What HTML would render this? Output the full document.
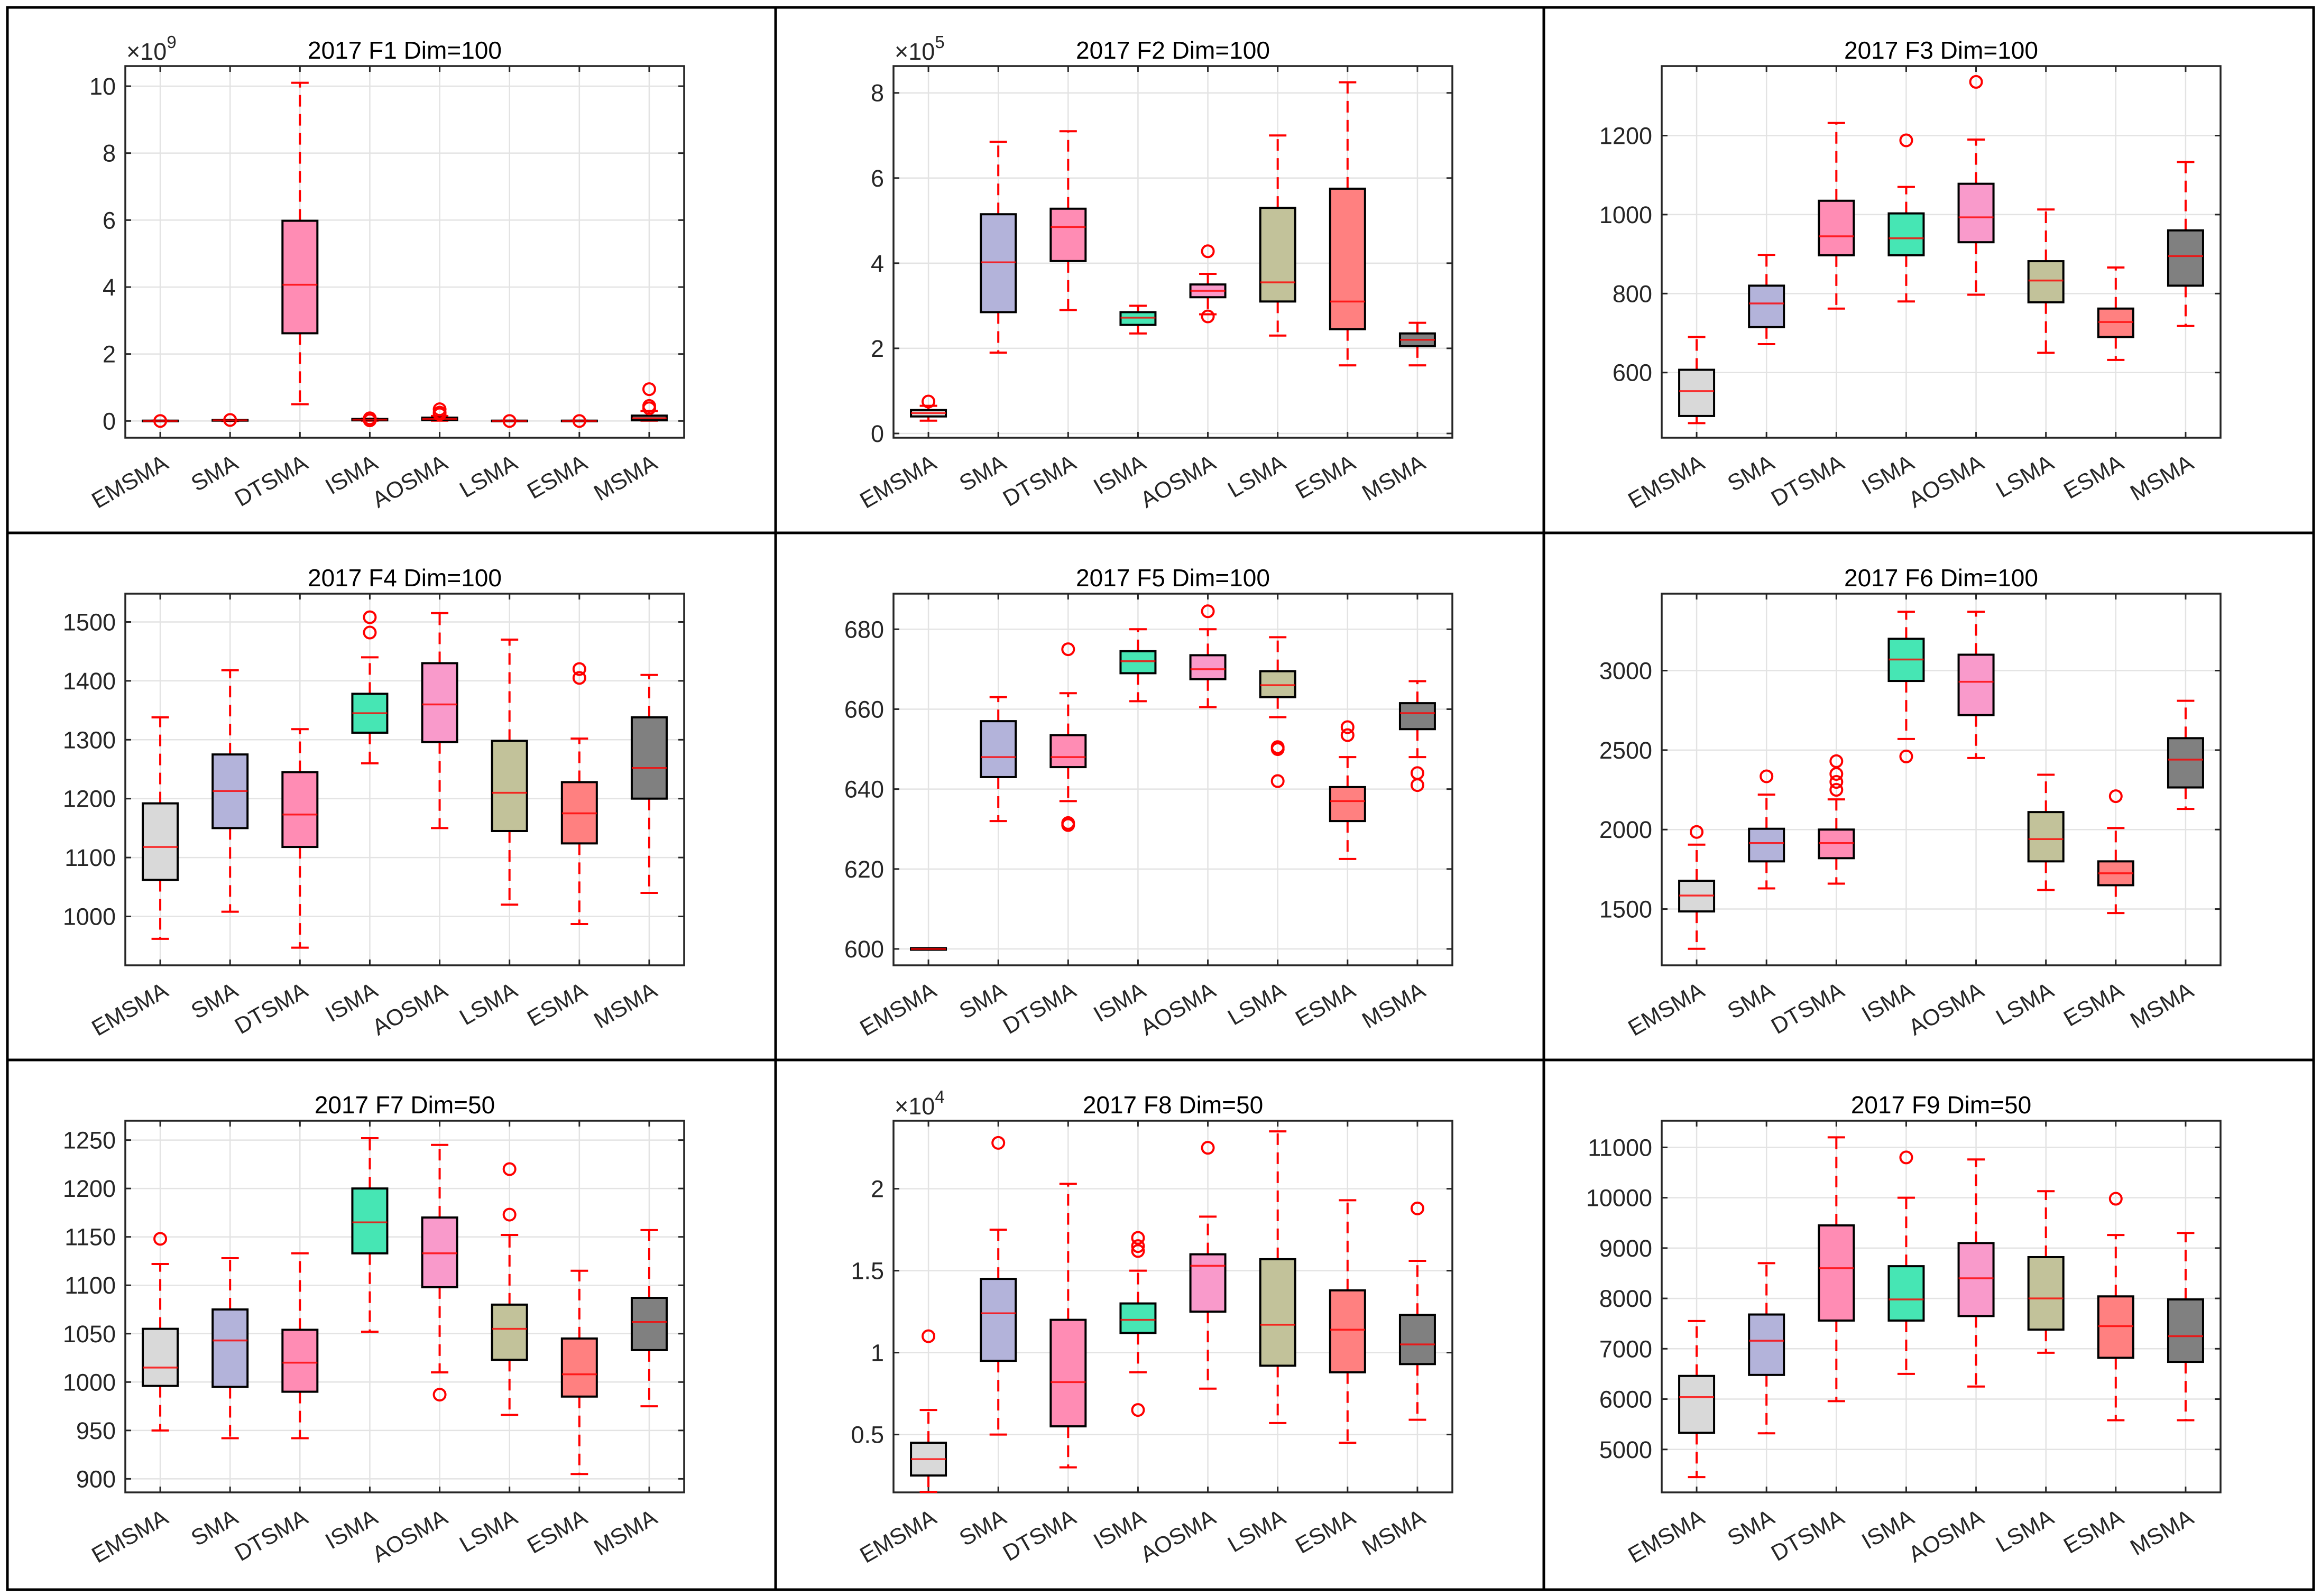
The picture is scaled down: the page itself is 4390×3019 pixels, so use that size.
<!DOCTYPE html>
<html><head><meta charset="utf-8">
<style>
html,body{margin:0;padding:0;background:#fff;}
svg{display:block;font-family:"Liberation Sans",Arial,sans-serif;}
</style></head>
<body>
<svg id="fig" width="4390" height="3019" viewBox="0 0 4390 3019" xmlns="http://www.w3.org/2000/svg">
<rect x="0" y="0" width="4390" height="3019" fill="#fff"/>
<g id="panels"></g>
<g stroke="#000" stroke-width="5" fill="none">
<rect x="14" y="14" width="4362" height="2993"/>
<line x1="1467" y1="14" x2="1467" y2="3007"/>
<line x1="2920" y1="14" x2="2920" y2="3007"/>
<line x1="14" y1="1008" x2="4376" y2="1008"/>
<line x1="14" y1="2005" x2="4376" y2="2005"/>
</g>
</svg>
<script>
const categories = ["EMSMA","SMA","DTSMA","ISMA","AOSMA","LSMA","ESMA","MSMA"];
const colors = ["#d9d9d9","#b3b3da","#ff8cb4","#46e6b4","#f99acb","#c2c29a","#ff8080","#808080"];
const titles = ["2017 F1 Dim=100","2017 F2 Dim=100","2017 F3 Dim=100","2017 F4 Dim=100","2017 F5 Dim=100","2017 F6 Dim=100","2017 F7 Dim=50","2017 F8 Dim=50","2017 F9 Dim=50"];
const exponents = [9,5,null,null,null,null,null,4,null];
const yLimits = [[-0.5,10.6],[-0.1,8.63],[435,1376],[917,1548],[595.9,688.9],[1146,3484],[886,1270],[0.147,2.415],[4147,11529]];
const yTicks = [[0,2,4,6,8,10],[0,2,4,6,8],[600,800,1000,1200],[1000,1100,1200,1300,1400,1500],[600,620,640,660,680],[1500,2000,2500,3000],[900,950,1000,1050,1100,1150,1200,1250],[0.5,1,1.5,2],[5000,6000,7000,8000,9000,10000,11000]];
const q1 = [
 [0,0.01,2.62,0.02,0.03,0,0,0.02],
 [0.4,2.85,4.05,2.55,3.2,3.1,2.45,2.05],
 [490,715,897,897,930,778,690,820],
 [1062,1150,1118,1312,1296,1145,1124,1200],
 [599.8,643,645.5,669,667.5,663,632,655],
 [1485,1800,1820,2935,2720,1800,1650,2265],
 [996,995,990,1133,1098,1023,985,1033],
 [0.25,0.95,0.55,1.12,1.25,0.92,0.88,0.93],
 [5330,6480,7560,7560,7650,7380,6820,6740]];
const med = [
 [0,0.02,4.07,0.04,0.06,0,0,0.08],
 [0.48,4.02,4.85,2.72,3.35,3.55,3.1,2.2],
 [553,775,945,940,993,833,728,895],
 [1118,1213,1173,1345,1360,1210,1175,1252],
 [600,648,648,672,670,666,637,659],
 [1585,1915,1915,3070,2930,1940,1725,2440],
 [1015,1043,1020,1165,1133,1055,1008,1062],
 [0.35,1.24,0.82,1.2,1.53,1.17,1.14,1.05],
 [6040,7160,8600,7980,8400,8000,7450,7250]];
const q3 = [
 [0.01,0.03,5.98,0.06,0.1,0.01,0.01,0.16],
 [0.55,5.15,5.28,2.85,3.5,5.3,5.75,2.35],
 [607,820,1035,1003,1078,882,762,960],
 [1192,1275,1245,1378,1430,1298,1228,1338],
 [600.2,657,653.5,674.5,673.5,669.5,640.5,661.5],
 [1678,2005,2000,3200,3100,2110,1800,2575],
 [1055,1075,1054,1200,1170,1080,1045,1087],
 [0.45,1.45,1.2,1.3,1.6,1.57,1.38,1.23],
 [6460,7680,9450,8640,9100,8820,8040,7980]];
const whiskLo = [
 [0,0,0.5,0.01,0.01,0,0,0.01],
 [0.3,1.9,2.9,2.35,2.8,2.3,1.6,1.6],
 [472,672,762,780,797,650,632,718],
 [962,1008,947,1260,1150,1020,987,1040],
 [599.8,632,637,662,660.5,658,622.5,648],
 [1250,1630,1660,2570,2450,1620,1475,2130],
 [950,942,942,1052,1010,966,905,975],
 [0.15,0.5,0.3,0.88,0.78,0.57,0.45,0.59],
 [4450,5320,5960,6500,6250,6920,5580,5580]];
const whiskHi = [
 [0.01,0.03,10.1,0.07,0.15,0.01,0.01,0.3],
 [0.65,6.85,7.1,3.0,3.75,7.0,8.25,2.6],
 [690,898,1232,1070,1190,1013,866,1133],
 [1338,1418,1318,1440,1515,1470,1302,1410],
 [600.2,663,664,680,680,678,648,667],
 [1905,2220,2190,3370,3370,2345,2010,2810],
 [1122,1128,1133,1252,1245,1152,1115,1157],
 [0.65,1.75,2.03,1.5,1.83,2.35,1.93,1.56],
 [7550,8700,11200,10000,10760,10130,9260,9300]];
const outliers = [
 [[0],[0.03],[],[0.08,0.02],[0.35,0.25,0.2],[0],[0],[0.95,0.45,0.38]],
 [[0.75],[],[],[],[4.28,2.75],[],[],[]],
 [[],[],[],[1188],[1336],[],[],[]],
 [[],[],[],[1508,1482],[],[],[1420,1405],[]],
 [[],[],[675,631.5,631],[],[684.5],[650.5,650,642],[655.5,653.5],[644,641]],
 [[1985],[2335],[2430,2350,2300,2250],[2460],[],[],[2210],[]],
 [[1148],[],[],[],[987],[1220,1173],[],[]],
 [[1.1],[2.28],[],[1.7,1.65,1.62,0.65],[2.25],[],[],[1.88]],
 [[],[],[],[10800],[],[],[9980],[]]];

const NS = "http://www.w3.org/2000/svg";
const root = document.getElementById("panels");
function mk(tag, attrs, parent){
  const e = document.createElementNS(NS, tag);
  for (const k in attrs) e.setAttribute(k, attrs[k]);
  parent.appendChild(e);
  return e;
}
const AXW = 1057, AXH = 703;
const axLeft = [237, 1690, 3143];
const axTop = [125, 1123, 2120];

for (let p = 0; p < 9; p++) {
  const col = p % 3, row = Math.floor(p / 3);
  const x0 = axLeft[col], y0 = axTop[row];
  const [ymin, ymax] = yLimits[p];
  const X = i => x0 + (i + 1 - 0.5) / 8 * AXW;
  const Y = v => y0 + AXH - (v - ymin) / (ymax - ymin) * AXH;
  const g = mk("g", {}, root);
  
  
  const grid = mk("g", {stroke: "#e3e3e3", "stroke-width": 2.5}, g);
  
  
  for (let i = 0; i < 8; i++) mk("line", {x1: X(i), x2: X(i), y1: y0, y2: y0 + AXH}, grid);
  yTicks[p].forEach(t => mk("line", {x1: x0, x2: x0 + AXW, y1: Y(t), y2: Y(t)}, grid));
  const frame = mk("rect", {x: x0, y: y0, width: AXW, height: AXH, fill: "none", stroke: "#262626", "stroke-width": 3.5}, g);
  
  
  const tk = mk("g", {stroke: "#262626", "stroke-width": 3}, g);
  for (let i = 0; i < 8; i++) {
    mk("line", {x1: X(i), x2: X(i), y1: y0, y2: y0 + 11}, tk);
    mk("line", {x1: X(i), x2: X(i), y1: y0 + AXH, y2: y0 + AXH - 11}, tk);
  }
  yTicks[p].forEach(t => {
    mk("line", {x1: x0, x2: x0 + 11, y1: Y(t), y2: Y(t)}, tk);
    mk("line", {x1: x0 + AXW, x2: x0 + AXW - 11, y1: Y(t), y2: Y(t)}, tk);
  });
  yTicks[p].forEach(t => {
    const tx = mk("text", {x: x0 - 18, y: Y(t) + 16, "text-anchor": "end", "font-size": 45, fill: "#262626"}, g);
    
    
    tx.textContent = String(t);
  });
  categories.forEach((c, i) => {
    const lx = X(i) + 18, ly = y0 + AXH + 56;
    const tx = mk("text", {x: lx, y: ly, "text-anchor": "end", "font-size": 43, fill: "#262626", transform: `rotate(-30 ${lx} ${ly})`}, g);
    
    
    tx.textContent = c;
  });
  const tt = mk("text", {x: x0 + AXW / 2, y: y0 - 14, "text-anchor": "middle", "font-size": 46, fill: "#000"}, g);
  
  
  tt.textContent = titles[p];
  if (exponents[p] !== null) {
    const ex = mk("text", {x: x0 + 2, y: y0 - 12, "font-size": 45, fill: "#262626"}, g);
    
    
    ex.textContent = "\u00d710";
    const ts = mk("tspan", {dy: -22, "font-size": 33}, ex);
    ts.textContent = String(exponents[p]);
  }
  for (let i = 0; i < 8; i++) {
    const bx = mk("g", {}, g);
    
    
    const cx = X(i), bw = 66, cw = 33;
    mk("line", {x1: cx, x2: cx, y1: Y(q3[p][i]), y2: Y(whiskHi[p][i]), stroke: "#ff0000", "stroke-width": 4, "stroke-dasharray": "22 14"}, bx);
    mk("line", {x1: cx, x2: cx, y1: Y(q1[p][i]), y2: Y(whiskLo[p][i]), stroke: "#ff0000", "stroke-width": 4, "stroke-dasharray": "22 14"}, bx);
    mk("line", {x1: cx - cw / 2, x2: cx + cw / 2, y1: Y(whiskHi[p][i]), y2: Y(whiskHi[p][i]), stroke: "#ff0000", "stroke-width": 4}, bx);
    mk("line", {x1: cx - cw / 2, x2: cx + cw / 2, y1: Y(whiskLo[p][i]), y2: Y(whiskLo[p][i]), stroke: "#ff0000", "stroke-width": 4}, bx);
    const yt = Y(q3[p][i]), yb = Y(q1[p][i]);
    mk("rect", {x: cx - bw / 2, y: yt, width: bw, height: Math.max(yb - yt, 1), fill: colors[i], stroke: "#000", "stroke-width": 4}, bx);
    mk("line", {x1: cx - bw / 2, x2: cx + bw / 2, y1: Y(med[p][i]), y2: Y(med[p][i]), stroke: "#ff0000", "stroke-width": 3.5, "stroke-opacity": 0.8}, bx);
    outliers[p][i].forEach(v => {
      const o = mk("circle", {cx: cx, cy: Y(v), r: 11, fill: "none", stroke: "#ff0000", "stroke-width": 4}, bx);
      
      
    });
  }
}
</script>
</body></html>
